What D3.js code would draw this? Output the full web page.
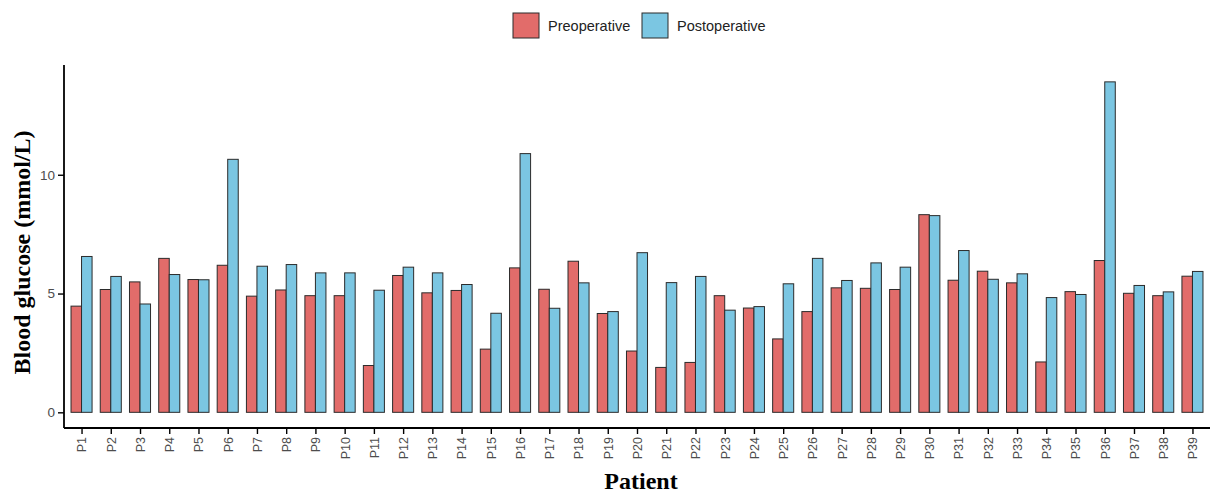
<!DOCTYPE html>
<html>
<head>
<meta charset="utf-8">
<script src="https://cdn.jsdelivr.net/npm/d3@7"></script>
<style>
  html, body { margin: 0; padding: 0; background: #fff; }
  svg { display: block; }
</style>
</head>
<body>
<svg id="chart" width="1213" height="493"></svg>
<script>
const patients = ["P1","P2","P3","P4","P5","P6","P7","P8","P9","P10","P11","P12","P13","P14","P15","P16","P17","P18","P19","P20","P21","P22","P23","P24","P25","P26","P27","P28","P29","P30","P31","P32","P33","P34","P35","P36","P37","P38","P39"];
const preoperative = [4.47,5.17,5.49,6.48,5.59,6.19,4.89,5.15,4.91,4.91,1.97,5.76,5.03,5.13,2.66,6.08,5.18,6.36,4.16,2.58,1.89,2.10,4.91,4.39,3.09,4.24,5.24,5.22,5.17,8.32,5.56,5.94,5.45,2.12,5.08,6.39,5.01,4.91,5.73];
const postoperative = [6.56,5.72,4.56,5.80,5.58,10.65,6.15,6.22,5.87,5.87,5.14,6.11,5.87,5.38,4.17,10.89,4.38,5.45,4.24,6.72,5.46,5.72,4.30,4.45,5.41,6.48,5.55,6.29,6.11,8.28,6.81,5.60,5.83,4.83,4.96,13.91,5.34,5.07,5.93];
const seriesNames = ["Preoperative","Postoperative"];
const seriesColors = ["#E26C6A","#7BC6E2"];
const yTicks = [0,5,10];
const yDomain = [-0.66, 14.62];

(function () {
const svg = d3.select("#chart");
const mLeft = 64, mRight = 1210, mTop = 65, mBottom = 428;

const x = d3.scalePoint().domain(patients).range([mLeft, mRight]).padding(0.6);
const step = x.step();
const xs = d3.scaleBand().domain(seriesNames).range([-step*0.36, step*0.36]).padding(0);
const y = d3.scaleLinear().domain(yDomain).range([mBottom, mTop]);

const rows = patients.map((p, i) => ({p, vals: [preoperative[i], postoperative[i]]}));

const g = svg.append("g");
g.selectAll("g.pair").data(rows).join("g")
  .attr("class","pair")
  .attr("transform", d => `translate(${x(d.p)},0)`)
  .selectAll("rect").data(d => d.vals.map((v, k) => ({v, k})))
  .join("rect")
  .attr("x", d => xs(seriesNames[d.k]))
  .attr("width", xs.bandwidth())
  .attr("y", d => y(d.v))
  .attr("height", d => y(0) - y(d.v))
  .attr("fill", d => seriesColors[d.k])
  .attr("stroke", "#2b2b2b")
  .attr("stroke-width", 1);

// Y axis
const yAxis = svg.append("g").attr("transform", `translate(${mLeft},0)`)
  .call(d3.axisLeft(y).tickValues(yTicks).tickSize(6).tickPadding(3).tickFormat(d3.format("d")));
yAxis.select(".domain").attr("stroke","#000").attr("stroke-width",1.8).attr("d", `M0,${mTop}V${mBottom}`);
yAxis.selectAll(".tick line").attr("stroke","#000").attr("stroke-width",1.4);
yAxis.selectAll(".tick text").attr("fill","#4d4d4d").style("font-family","'Liberation Sans', Arial, sans-serif").style("font-size","13.5px");

// X axis
const xAxis = svg.append("g").attr("transform", `translate(0,${mBottom})`)
  .call(d3.axisBottom(x).tickSize(6).tickPadding(3));
xAxis.select(".domain").attr("stroke","#000").attr("stroke-width",1.8).attr("d", `M${mLeft},0H${mRight}`);
xAxis.selectAll(".tick line").attr("stroke","#000").attr("stroke-width",1.4);
xAxis.selectAll(".tick text")
  .attr("fill","#4d4d4d")
  .style("font-family","'Liberation Sans', Arial, sans-serif").style("font-size","12.5px")
  .attr("transform","rotate(-90)")
  .attr("text-anchor","end")
  .attr("x", -9).attr("y", 0).attr("dy","0.35em");

// Axis titles
svg.append("text")
  .attr("transform", `translate(30,${(mTop+mBottom)/2 + 6}) rotate(-90)`)
  .attr("text-anchor","middle")
  .style("font-family","'Liberation Serif', 'Times New Roman', serif")
  .style("font-weight","bold").style("font-size","24px")
  .attr("fill","#000")
  .text("Blood glucose (mmol/L)");

svg.append("text")
  .attr("x", 641).attr("y", 489)
  .attr("text-anchor","middle")
  .style("font-family","'Liberation Serif', 'Times New Roman', serif")
  .style("font-weight","bold").style("font-size","24px")
  .attr("fill","#000")
  .text("Patient");

// Legend
const legendX = [513, 642];
const lg = svg.append("g");
seriesNames.forEach((name, k) => {
  lg.append("rect").attr("x", legendX[k]).attr("y", 13).attr("width", 26).attr("height", 25)
    .attr("fill", seriesColors[k]).attr("stroke","#2b2b2b").attr("stroke-width",1);
  lg.append("text").attr("x", legendX[k] + 35).attr("y", 31)
    .style("font-family","'Liberation Sans', Arial, sans-serif").style("font-size","14.5px")
    .attr("fill","#222").text(name);
});
})();
</script>
</body>
</html>
